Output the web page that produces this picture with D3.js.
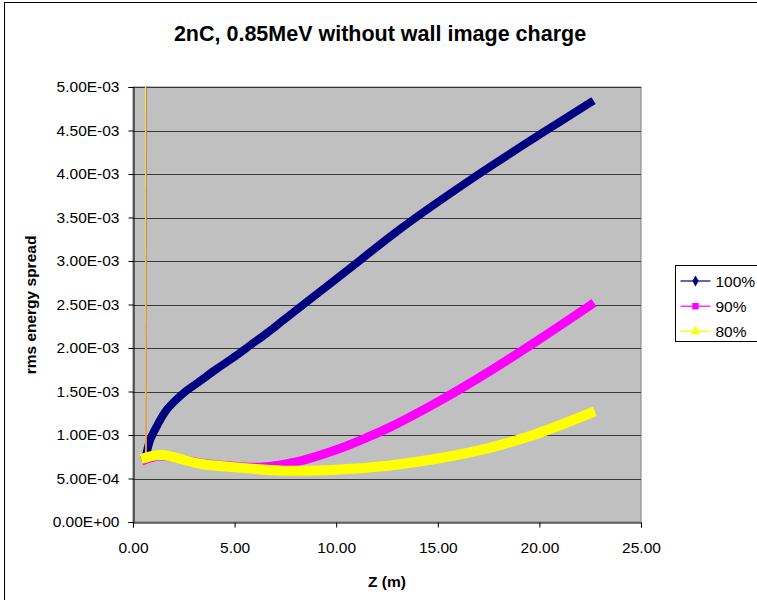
<!doctype html>
<head>
  <meta charset="utf-8">
  <script src="https://cdnjs.cloudflare.com/ajax/libs/d3/7.8.2/d3.min.js"></script>
</head>
<style>
    body { margin: 0; background: #ffffff; }
    text { font-family: "Liberation Sans", Arial, sans-serif; fill: #000; }
</style>
<body>
    <div id="container"></div>
    <script>
        // Datos (Z en m, dispersión rms)
        const seriesNames = ["100%", "90%", "80%"];
        const z100 = [0.63, 0.64, 0.84, 1.17, 1.66, 2.48, 3.3, 4.12, 4.94, 5.76, 6.58, 7.4, 8.22, 10.7, 13.1, 16.9, 20.2, 22.5];
        const e100 = [0.0060, 0.00076, 0.00094, 0.00110, 0.00129, 0.00148, 0.00162, 0.00176, 0.00189, 0.00203, 0.00217, 0.00232, 0.00247, 0.00292, 0.00336, 0.00398, 0.00448, 0.00482];
        const z90 = [0.62, 0.64, 1.4, 3.3, 5.0, 6.25, 8.2, 10.0, 11.5, 12.65, 15.0, 17.6, 20.0, 22.5];
        const e90 = [0.0060, 0.00072, 0.00076, 0.00068, 0.00064, 0.00063, 0.00070, 0.00083, 0.00097, 0.00109, 0.00138, 0.00174, 0.00210, 0.00249];
        const z80 = [0.62, 0.64, 1.4, 3.3, 5.0, 7.4, 10.0, 12.65, 15.0, 17.5, 19.7, 22.5];
        const e80 = [0.0060, 0.00074, 0.00077, 0.00067, 0.00063, 0.00059, 0.00060, 0.00065, 0.00073, 0.00085, 0.00100, 0.00125];
        const colors = ["#000080", "#FF00FF", "#FFFF00"];
        const xTicks = [0, 5, 10, 15, 20, 25];
        const yTicks = [0, 0.0005, 0.001, 0.0015, 0.002, 0.0025, 0.003, 0.0035, 0.004, 0.0045, 0.005];

        const width = 757, height = 600;
        const plot = { left: 133, right: 641, top: 87, bottom: 522 };

        const svg = d3.select('#container')
            .append('svg')
            .attr('width', width)
            .attr('height', height);

        // Marco exterior
        svg.append('rect')
            .attr('x', 4.5).attr('y', 2.5)
            .attr('width', width + 10).attr('height', height + 10)
            .attr('fill', '#fff').attr('stroke', '#000').attr('stroke-width', 1);

        const x = d3.scaleLinear().domain([0, 25]).range([plot.left, plot.right]);
        const y = d3.scaleLinear().domain([0, 0.005]).range([plot.bottom, plot.top]);

        // Área del gráfico
        svg.append('rect')
            .attr('x', plot.left).attr('y', plot.top)
            .attr('width', plot.right - plot.left).attr('height', plot.bottom - plot.top)
            .attr('fill', '#C0C0C0').attr('stroke', '#808080').attr('stroke-width', 1);

        // Líneas de rejilla
        svg.append('g')
            .selectAll('line')
            .data(yTicks.filter(d => d > 0))
            .enter()
            .append('line')
            .attr('x1', plot.left).attr('x2', plot.right)
            .attr('y1', d => Math.round(y(d)) + 0.5).attr('y2', d => Math.round(y(d)) + 0.5)
            .attr('stroke', '#3a3a3a').attr('stroke-width', 1.2);

        function sciFormat(v) {
            const [m, e] = v.toExponential(2).split('e');
            const n = parseInt(e, 10);
            return m + 'E' + (n < 0 ? '-' : '+') + String(Math.abs(n)).padStart(2, '0');
        }

        const yAxis = svg.append('g')
            .attr('transform', `translate(${plot.left + 0.5},0)`)
            .call(d3.axisLeft(y).tickValues(yTicks).tickSize(5).tickPadding(9).tickFormat(sciFormat));
        const xAxis = svg.append('g')
            .attr('transform', `translate(0,${plot.bottom + 0.5})`)
            .call(d3.axisBottom(x).tickValues(xTicks).tickSize(5).tickPadding(14).tickFormat(d3.format('.2f')));
        [xAxis, yAxis].forEach(a => {
            a.select('.domain').attr('stroke', '#000');
            a.selectAll('.tick line').attr('stroke', '#000');
            a.selectAll('.tick text')
                .attr('font-family', '"Liberation Sans", Arial, sans-serif')
                .attr('font-size', 15.5).attr('fill', '#000');
        });

        // Series
        svg.append('clipPath').attr('id', 'plot-clip')
            .append('rect')
            .attr('x', plot.left).attr('y', plot.top)
            .attr('width', plot.right - plot.left).attr('height', plot.bottom - plot.top);

        const widths = [8, 9, 10];
        const series = [
            { name: seriesNames[0], z: z100, e: e100, color: colors[0] },
            { name: seriesNames[1], z: z90, e: e90, color: colors[1] },
            { name: seriesNames[2], z: z80, e: e80, color: colors[2] },
        ].map(s => ({ ...s, points: s.z.map((z, i) => ({ z: z, e: s.e[i] })) }));

        const line = d3.line().x(d => x(d.z)).y(d => y(d.e));
        const curve = d3.line().x(d => x(d.z)).y(d => y(d.e)).curve(d3.curveCatmullRom.alpha(0.5));

        const gSeries = svg.append('g').attr('clip-path', 'url(#plot-clip)');
        series.forEach((s, i) => {
            // tramo inicial (primer punto fuera de escala)
            gSeries.append('path')
                .attr('d', line(s.points.slice(0, 2)))
                .attr('fill', 'none').attr('stroke', s.color).attr('stroke-width', 1.2);
            // tramo principal (marcadores densos)
            gSeries.append('path')
                .attr('d', curve(s.points.slice(1)))
                .attr('fill', 'none').attr('stroke', s.color).attr('stroke-width', widths[i])
                .attr('stroke-linejoin', 'round').attr('stroke-linecap', 'square');
        });

        // Títulos
        svg.append('text')
            .attr('x', 380).attr('y', 41)
            .attr('text-anchor', 'middle')
            .attr('font-size', 21.5).attr('font-weight', 'bold')
            .text('2nC, 0.85MeV without wall image charge');
        svg.append('text')
            .attr('transform', 'translate(36,305) rotate(-90)')
            .attr('text-anchor', 'middle')
            .attr('font-size', 15.5).attr('font-weight', 'bold')
            .text('rms energy spread');
        svg.append('text')
            .attr('x', 387).attr('y', 587)
            .attr('text-anchor', 'middle')
            .attr('font-size', 15.5).attr('font-weight', 'bold')
            .text('Z (m)');

        // Leyenda
        const legend = svg.append('g').attr('transform', 'translate(675.5,265.5)');
        legend.append('rect')
            .attr('width', 82).attr('height', 76)
            .attr('fill', '#fff').attr('stroke', '#000').attr('stroke-width', 1);
        const symbols = [d3.symbolDiamond, d3.symbolSquare, d3.symbolTriangle];
        series.forEach((s, i) => {
            const gy = 15.5 + i * 25.2;
            legend.append('line')
                .attr('x1', 5).attr('x2', 35).attr('y1', gy).attr('y2', gy)
                .attr('stroke', s.color).attr('stroke-width', 1.2);
            legend.append('path')
                .attr('d', d3.symbol().type(symbols[i]).size(i === 0 ? 34 : 42)())
                .attr('transform', `translate(20,${gy})`)
                .attr('fill', s.color);
            legend.append('text')
                .attr('x', 40).attr('y', gy + 5.5)
                .attr('font-size', 15.5)
                .text(s.name);
        });
    </script>
</body>
